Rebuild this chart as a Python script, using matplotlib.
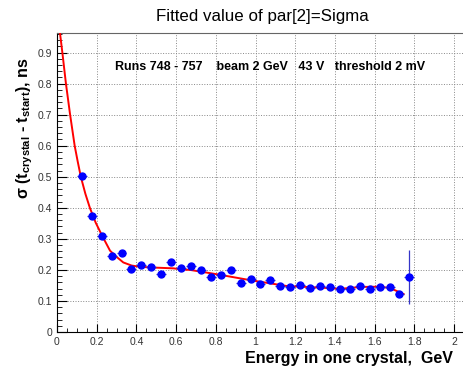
import matplotlib
matplotlib.use('Agg')
import matplotlib.pyplot as plt
from matplotlib.ticker import MultipleLocator, FuncFormatter

plt.rcParams['font.family'] = ['Liberation Sans', 'DejaVu Sans']
plt.rcParams['mathtext.fontset'] = 'custom'
plt.rcParams['mathtext.rm'] = 'Liberation Sans'
plt.rcParams['mathtext.bf'] = 'Liberation Sans:bold'
plt.rcParams['mathtext.default'] = 'bf'

# measured sigma per energy bin (GeV, ns)
energy = [0.125, 0.175, 0.225, 0.275, 0.325, 0.375, 0.425, 0.475, 0.525, 0.575,
          0.625, 0.675, 0.725, 0.775, 0.825, 0.875, 0.925, 0.975, 1.025, 1.075,
          1.125, 1.175, 1.225, 1.275, 1.325, 1.375, 1.425, 1.475, 1.525, 1.575,
          1.625, 1.675, 1.725, 1.775]
sigma = [0.502, 0.372, 0.310, 0.245, 0.255, 0.202, 0.216, 0.210, 0.186, 0.224,
         0.207, 0.212, 0.200, 0.178, 0.182, 0.201, 0.159, 0.171, 0.155, 0.167,
         0.147, 0.144, 0.151, 0.142, 0.148, 0.145, 0.138, 0.138, 0.149, 0.139,
         0.146, 0.146, 0.122, 0.178]
sigma_err = [0.008] * 33 + [0.087]
energy_err = [0.025] * 34

# fit curve
fit_e = [0.015, 0.027, 0.045, 0.066, 0.089, 0.104, 0.12, 0.143, 0.166, 0.195,
         0.225, 0.267, 0.30, 0.334, 0.376, 0.419, 0.469, 0.587, 0.637, 0.67,
         0.805, 0.973, 1.158, 1.326, 1.427, 1.528, 1.629, 1.68, 1.746]
fit_s = [0.963, 0.9, 0.8, 0.7, 0.6, 0.55, 0.5, 0.445, 0.399, 0.352,
         0.313, 0.262, 0.242, 0.224, 0.214, 0.210, 0.208, 0.205, 0.201, 0.200,
         0.186, 0.167, 0.148, 0.143, 0.139, 0.145, 0.146, 0.141, 0.122]

fig = plt.figure(figsize=(4.64, 3.70), dpi=100)
ax = fig.add_axes([57 / 464, 1 - 332 / 370, (464 - 57) / 464, (332 - 33) / 370])

ax.plot(fit_e, fit_s, color='#ff0000', lw=1.4, zorder=3)
ax.errorbar(energy, sigma, xerr=energy_err, yerr=sigma_err, fmt='o',
            color='#0000ff', ecolor='#3535c8', elinewidth=0.9, capsize=0,
            markersize=5, zorder=4)

ax.set_xlim(0, 2.05)
ax.set_ylim(0, 0.963)
ax.xaxis.set_major_locator(MultipleLocator(0.2))
ax.xaxis.set_minor_locator(MultipleLocator(0.05))
ax.yaxis.set_major_locator(MultipleLocator(0.1))
ax.yaxis.set_minor_locator(MultipleLocator(0.02))
ax.xaxis.set_major_formatter(FuncFormatter(lambda v, p: '%g' % round(v, 2)))
ax.yaxis.set_major_formatter(FuncFormatter(lambda v, p: '%g' % round(v, 2)))
ax.tick_params(which='major', direction='in', length=7, width=0.8,
               labelsize=7.5, labelcolor='#333333')
ax.tick_params(which='minor', direction='in', length=3.5, width=0.6)
ax.tick_params(axis='x', which='major', length=5.5)
ax.tick_params(axis='x', which='minor', length=3)
ax.grid(True, which='major', color='#888888', linestyle=':', linewidth=0.7)
for s in ['top', 'right']:
    ax.spines[s].set_color('#666666')
ax.spines['left'].set_color('black')
ax.spines['bottom'].set_color('black')

fig.text(262 / 464, 1 - 16 / 370, 'Fitted value of par[2]=Sigma',
         ha='center', va='center', fontsize=12.2)
fig.text(115 / 464, 1 - 67 / 370,
         'Runs 748 - 757    beam 2 GeV   43 V   threshold 2 mV',
         ha='left', va='center', fontsize=9, fontweight='bold')
fig.text(453 / 464, 7 / 370, 'Energy in one crystal,  GeV',
         ha='right', va='baseline', fontsize=11.5, fontweight='bold')
fig.text(25 / 464, 1 - 58 / 370,
         r'$\sigma$ (t$_{crystal}$ - t$_{start}$), ns',
         ha='center', va='top', rotation=90, fontsize=11.5, fontweight='bold')

fig.savefig('out.png', dpi=100)
